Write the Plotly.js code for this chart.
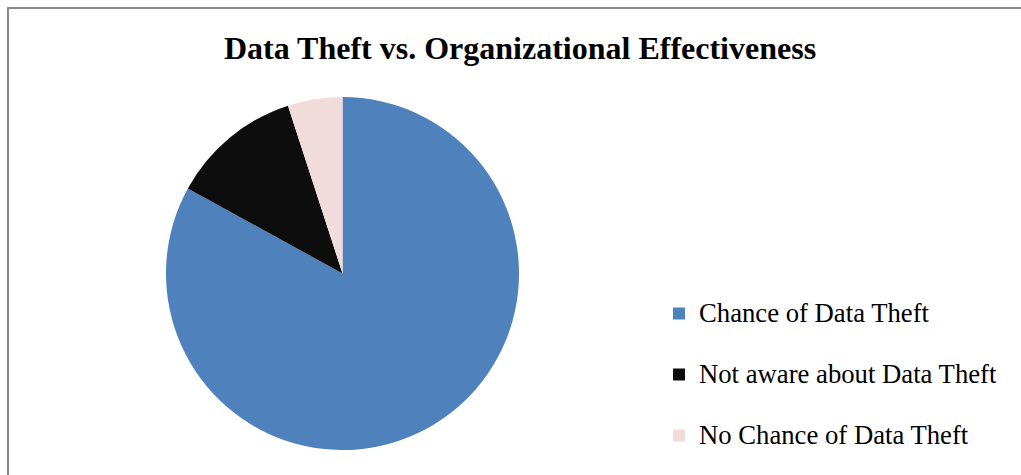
<!DOCTYPE html>
<html>
<head>
<meta charset="utf-8">
<script src="https://cdn.plot.ly/plotly-3.0.1.min.js"></script>
<style>
html,body{margin:0;padding:0;background:#fff;}
#chart{width:1021px;height:475px;}
</style>
</head>
<body>
<div id="chart"></div>
<script>
const labels = ["Chance of Data Theft", "Not aware about Data Theft", "No Chance of Data Theft"];
const values = [83, 12, 5];
const colors = ["#4F81BD", "#0D0D0D", "#F2DCDB"];
const titleText = "Data Theft vs. Organizational Effectiveness";

const W = 1021, H = 475;
const data = [{
  type: "pie",
  labels: labels.map(l => "\u00a0<br><span style='font-size:26.7px'>" + l + "</span>"),
  values: values,
  sort: false,
  direction: "clockwise",
  rotation: 0,
  textinfo: "none",
  hoverinfo: "label+percent",
  marker: {colors: colors, line: {width: 0}},
  domain: {x: [166/W, 519/W], y: [1 - 450/H, 1 - 97/H]}
}];

const layout = {
  width: W, height: H,
  margin: {l: 0, r: 0, t: 0, b: 0},
  paper_bgcolor: "#ffffff",
  font: {family: "Liberation Serif, Times New Roman, serif", color: "#000"},
  title: {
    text: "<b>" + titleText + "</b>",
    font: {family: "Liberation Serif, Times New Roman, serif", size: 32, color: "#000"},
    x: 520/W, xanchor: "center", xref: "paper",
    y: 1 - 48/H, yanchor: "middle", yref: "container"
  },
  showlegend: true,
  legend: {
    x: 659/W, xanchor: "left",
    y: 1 - 263.5/H, yanchor: "top",
    font: {family: "Liberation Serif, Times New Roman, serif", size: 22.3, color: "#000"},
    valign: "bottom",
    bgcolor: "rgba(0,0,0,0)"
  },
  shapes: [{
    type: "rect", xref: "paper", yref: "paper",
    x0: 8/W, x1: 1.1, y0: -0.1, y1: 1 - 8/H,
    line: {color: "#8a8a8a", width: 2}, fillcolor: "rgba(0,0,0,0)", layer: "below"
  }]
};

Plotly.newPlot("chart", data, layout, {displayModeBar: false, staticPlot: true});
</script>
</body>
</html>
